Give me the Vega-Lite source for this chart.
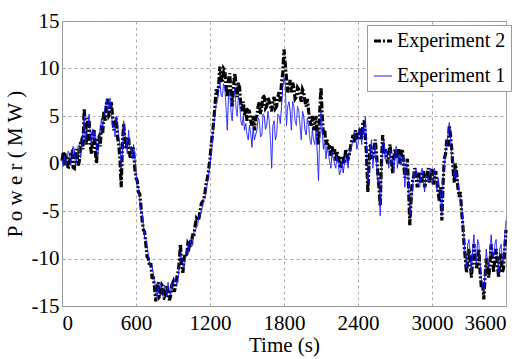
{
  "$schema": "https://vega.github.io/schema/vega-lite/v6.json",
  "width": 444,
  "height": 285,
  "autosize": "none",
  "padding": {"left": 62, "top": 21, "right": 20, "bottom": 53},
  "background": "white",
  "config": {
    "view": {"stroke": "#999999", "strokeWidth": 1},
    "font": "Liberation Serif",
    "axis": {
      "labelFontSize": 21,
      "titleFontSize": 21,
      "titleFontWeight": "normal",
      "labelColor": "black",
      "titleColor": "black",
      "domainColor": "#999999",
      "gridColor": "#aaaaaa",
      "gridDash": [3, 3],
      "ticks": false
    },
    "legend": {
      "labelFontSize": 20,
      "labelColor": "black",
      "orient": "none",
      "legendX": 305,
      "legendY": 4,
      "fillColor": "white",
      "strokeColor": "#999999",
      "padding": 5,
      "rowPadding": 15,
      "symbolType": "stroke",
      "symbolSize": 324,
      "labelOffset": 3
    }
  },
  "data": {
    "values": [
      {"t":0,"Experiment 2":0.3,"Experiment 1":0.5},
      {"t":10,"Experiment 2":1.2,"Experiment 1":-0.3},
      {"t":20,"Experiment 2":-0.2,"Experiment 1":0.8},
      {"t":30,"Experiment 2":0.9,"Experiment 1":-0.2},
      {"t":40,"Experiment 2":0.8,"Experiment 1":0.2},
      {"t":50,"Experiment 2":-0.6,"Experiment 1":1.3},
      {"t":60,"Experiment 2":0.0,"Experiment 1":1.0},
      {"t":70,"Experiment 2":1.0,"Experiment 1":-0.2},
      {"t":80,"Experiment 2":1.2,"Experiment 1":0.4},
      {"t":90,"Experiment 2":-0.4,"Experiment 1":1.8},
      {"t":100,"Experiment 2":-0.5,"Experiment 1":1.5},
      {"t":110,"Experiment 2":1.2,"Experiment 1":-0.2},
      {"t":120,"Experiment 2":1.5,"Experiment 1":0.5},
      {"t":130,"Experiment 2":-0.2,"Experiment 1":1.8},
      {"t":140,"Experiment 2":0.2,"Experiment 1":2.0},
      {"t":150,"Experiment 2":2.2,"Experiment 1":0.6},
      {"t":160,"Experiment 2":2.5,"Experiment 1":1.5},
      {"t":170,"Experiment 2":1.5,"Experiment 1":3.2},
      {"t":180,"Experiment 2":5.8,"Experiment 1":5.0},
      {"t":190,"Experiment 2":3.5,"Experiment 1":2.2},
      {"t":200,"Experiment 2":2.0,"Experiment 1":3.0},
      {"t":210,"Experiment 2":4.8,"Experiment 1":4.0},
      {"t":220,"Experiment 2":4.5,"Experiment 1":5.2},
      {"t":230,"Experiment 2":1.8,"Experiment 1":2.6},
      {"t":240,"Experiment 2":1.0,"Experiment 1":2.0},
      {"t":250,"Experiment 2":3.2,"Experiment 1":3.6},
      {"t":260,"Experiment 2":3.5,"Experiment 1":2.5},
      {"t":270,"Experiment 2":1.2,"Experiment 1":3.5},
      {"t":280,"Experiment 2":0.0,"Experiment 1":1.5},
      {"t":290,"Experiment 2":2.5,"Experiment 1":0.8},
      {"t":300,"Experiment 2":2.8,"Experiment 1":2.0},
      {"t":310,"Experiment 2":1.8,"Experiment 1":3.5},
      {"t":320,"Experiment 2":4.0,"Experiment 1":4.8},
      {"t":330,"Experiment 2":3.2,"Experiment 1":3.8},
      {"t":340,"Experiment 2":5.5,"Experiment 1":5.0},
      {"t":350,"Experiment 2":4.5,"Experiment 1":6.0},
      {"t":360,"Experiment 2":6.3,"Experiment 1":6.8},
      {"t":370,"Experiment 2":6.8,"Experiment 1":5.2},
      {"t":380,"Experiment 2":5.0,"Experiment 1":6.5},
      {"t":390,"Experiment 2":5.2,"Experiment 1":6.9},
      {"t":400,"Experiment 2":6.5,"Experiment 1":5.5},
      {"t":410,"Experiment 2":5.0,"Experiment 1":3.8},
      {"t":420,"Experiment 2":3.5,"Experiment 1":4.2},
      {"t":430,"Experiment 2":4.2,"Experiment 1":2.8},
      {"t":440,"Experiment 2":4.8,"Experiment 1":5.0},
      {"t":450,"Experiment 2":2.8,"Experiment 1":4.2},
      {"t":460,"Experiment 2":2.0,"Experiment 1":3.0},
      {"t":470,"Experiment 2":0.5,"Experiment 1":1.8},
      {"t":480,"Experiment 2":-2.5,"Experiment 1":-0.5},
      {"t":490,"Experiment 2":2.0,"Experiment 1":1.2},
      {"t":500,"Experiment 2":4.2,"Experiment 1":4.5},
      {"t":510,"Experiment 2":2.5,"Experiment 1":3.2},
      {"t":520,"Experiment 2":1.5,"Experiment 1":2.5},
      {"t":530,"Experiment 2":2.5,"Experiment 1":1.0},
      {"t":540,"Experiment 2":2.8,"Experiment 1":3.5},
      {"t":550,"Experiment 2":0.8,"Experiment 1":1.5},
      {"t":560,"Experiment 2":0.5,"Experiment 1":1.8},
      {"t":570,"Experiment 2":1.8,"Experiment 1":0.5},
      {"t":580,"Experiment 2":1.5,"Experiment 1":2.0},
      {"t":590,"Experiment 2":-0.5,"Experiment 1":0.8},
      {"t":600,"Experiment 2":-1.5,"Experiment 1":-1.0},
      {"t":610,"Experiment 2":-1.8,"Experiment 1":-2.2},
      {"t":620,"Experiment 2":-3.0,"Experiment 1":-2.5},
      {"t":630,"Experiment 2":-3.2,"Experiment 1":-3.8},
      {"t":640,"Experiment 2":-4.5,"Experiment 1":-5.0},
      {"t":650,"Experiment 2":-6.0,"Experiment 1":-5.2},
      {"t":660,"Experiment 2":-7.0,"Experiment 1":-6.5},
      {"t":670,"Experiment 2":-7.2,"Experiment 1":-7.8},
      {"t":680,"Experiment 2":-8.5,"Experiment 1":-8.0},
      {"t":690,"Experiment 2":-9.8,"Experiment 1":-8.8},
      {"t":700,"Experiment 2":-10.0,"Experiment 1":-9.5},
      {"t":710,"Experiment 2":-10.8,"Experiment 1":-10.5},
      {"t":720,"Experiment 2":-10.5,"Experiment 1":-11.0},
      {"t":730,"Experiment 2":-12.0,"Experiment 1":-10.8},
      {"t":740,"Experiment 2":-12.0,"Experiment 1":-11.5},
      {"t":750,"Experiment 2":-13.0,"Experiment 1":-12.5},
      {"t":760,"Experiment 2":-14.5,"Experiment 1":-13.0},
      {"t":770,"Experiment 2":-13.0,"Experiment 1":-14.2},
      {"t":780,"Experiment 2":-12.5,"Experiment 1":-13.5},
      {"t":790,"Experiment 2":-14.0,"Experiment 1":-12.5},
      {"t":800,"Experiment 2":-13.8,"Experiment 1":-12.8},
      {"t":810,"Experiment 2":-12.8,"Experiment 1":-13.8},
      {"t":820,"Experiment 2":-13.0,"Experiment 1":-14.0},
      {"t":830,"Experiment 2":-14.2,"Experiment 1":-12.8},
      {"t":840,"Experiment 2":-14.2,"Experiment 1":-13.2},
      {"t":850,"Experiment 2":-12.8,"Experiment 1":-14.0},
      {"t":860,"Experiment 2":-13.5,"Experiment 1":-12.5},
      {"t":870,"Experiment 2":-14.4,"Experiment 1":-13.6},
      {"t":880,"Experiment 2":-14.0,"Experiment 1":-13.8},
      {"t":890,"Experiment 2":-12.8,"Experiment 1":-12.5},
      {"t":900,"Experiment 2":-12.5,"Experiment 1":-13.0},
      {"t":910,"Experiment 2":-13.5,"Experiment 1":-12.2},
      {"t":920,"Experiment 2":-13.0,"Experiment 1":-12.0},
      {"t":930,"Experiment 2":-12.0,"Experiment 1":-12.8},
      {"t":940,"Experiment 2":-11.5,"Experiment 1":-12.5},
      {"t":950,"Experiment 2":-10.5,"Experiment 1":-11.0},
      {"t":960,"Experiment 2":-8.5,"Experiment 1":-9.5},
      {"t":970,"Experiment 2":-10.5,"Experiment 1":-10.0},
      {"t":980,"Experiment 2":-11.5,"Experiment 1":-10.5},
      {"t":990,"Experiment 2":-10.0,"Experiment 1":-11.0},
      {"t":1000,"Experiment 2":-9.5,"Experiment 1":-10.0},
      {"t":1010,"Experiment 2":-9.8,"Experiment 1":-9.0},
      {"t":1020,"Experiment 2":-8.5,"Experiment 1":-9.5},
      {"t":1030,"Experiment 2":-8.8,"Experiment 1":-8.2},
      {"t":1040,"Experiment 2":-8.0,"Experiment 1":-8.0},
      {"t":1050,"Experiment 2":-8.2,"Experiment 1":-8.8},
      {"t":1060,"Experiment 2":-7.5,"Experiment 1":-8.5},
      {"t":1070,"Experiment 2":-7.5,"Experiment 1":-7.2},
      {"t":1080,"Experiment 2":-6.5,"Experiment 1":-7.0},
      {"t":1090,"Experiment 2":-5.8,"Experiment 1":-6.8},
      {"t":1100,"Experiment 2":-6.0,"Experiment 1":-6.5},
      {"t":1110,"Experiment 2":-5.8,"Experiment 1":-5.5},
      {"t":1120,"Experiment 2":-5.0,"Experiment 1":-5.5},
      {"t":1130,"Experiment 2":-4.2,"Experiment 1":-5.0},
      {"t":1140,"Experiment 2":-4.0,"Experiment 1":-4.5},
      {"t":1150,"Experiment 2":-3.8,"Experiment 1":-3.8},
      {"t":1160,"Experiment 2":-3.0,"Experiment 1":-3.5},
      {"t":1170,"Experiment 2":-2.0,"Experiment 1":-2.8},
      {"t":1180,"Experiment 2":-1.5,"Experiment 1":-2.0},
      {"t":1190,"Experiment 2":-0.5,"Experiment 1":-1.0},
      {"t":1200,"Experiment 2":0.5,"Experiment 1":0.0},
      {"t":1210,"Experiment 2":2.0,"Experiment 1":1.0},
      {"t":1220,"Experiment 2":3.0,"Experiment 1":2.5},
      {"t":1230,"Experiment 2":4.5,"Experiment 1":4.0},
      {"t":1240,"Experiment 2":6.0,"Experiment 1":5.0},
      {"t":1250,"Experiment 2":7.8,"Experiment 1":6.2},
      {"t":1260,"Experiment 2":7.5,"Experiment 1":6.5},
      {"t":1270,"Experiment 2":8.2,"Experiment 1":7.8},
      {"t":1280,"Experiment 2":10.2,"Experiment 1":8.7},
      {"t":1290,"Experiment 2":9.0,"Experiment 1":7.2},
      {"t":1300,"Experiment 2":8.5,"Experiment 1":7.0},
      {"t":1310,"Experiment 2":10.0,"Experiment 1":8.4},
      {"t":1320,"Experiment 2":9.8,"Experiment 1":8.0},
      {"t":1330,"Experiment 2":8.0,"Experiment 1":6.0},
      {"t":1340,"Experiment 2":7.0,"Experiment 1":3.5},
      {"t":1350,"Experiment 2":8.8,"Experiment 1":7.0},
      {"t":1360,"Experiment 2":9.5,"Experiment 1":7.5},
      {"t":1370,"Experiment 2":7.5,"Experiment 1":5.5},
      {"t":1380,"Experiment 2":6.0,"Experiment 1":4.5},
      {"t":1390,"Experiment 2":8.0,"Experiment 1":6.8},
      {"t":1400,"Experiment 2":9.5,"Experiment 1":8.0},
      {"t":1410,"Experiment 2":8.5,"Experiment 1":6.0},
      {"t":1420,"Experiment 2":7.0,"Experiment 1":5.0},
      {"t":1430,"Experiment 2":8.5,"Experiment 1":7.0},
      {"t":1440,"Experiment 2":8.0,"Experiment 1":6.5},
      {"t":1450,"Experiment 2":6.2,"Experiment 1":4.5},
      {"t":1460,"Experiment 2":5.5,"Experiment 1":4.0},
      {"t":1470,"Experiment 2":6.5,"Experiment 1":5.0},
      {"t":1480,"Experiment 2":5.0,"Experiment 1":3.5},
      {"t":1490,"Experiment 2":5.8,"Experiment 1":4.2},
      {"t":1500,"Experiment 2":4.5,"Experiment 1":3.0},
      {"t":1510,"Experiment 2":5.6,"Experiment 1":2.5},
      {"t":1520,"Experiment 2":5.5,"Experiment 1":4.0},
      {"t":1530,"Experiment 2":4.5,"Experiment 1":3.2},
      {"t":1540,"Experiment 2":4.0,"Experiment 1":1.7},
      {"t":1550,"Experiment 2":5.0,"Experiment 1":3.8},
      {"t":1560,"Experiment 2":3.5,"Experiment 1":2.5},
      {"t":1570,"Experiment 2":4.8,"Experiment 1":3.0},
      {"t":1580,"Experiment 2":5.0,"Experiment 1":3.5},
      {"t":1590,"Experiment 2":6.0,"Experiment 1":4.8},
      {"t":1600,"Experiment 2":6.5,"Experiment 1":4.5},
      {"t":1610,"Experiment 2":5.2,"Experiment 1":2.8},
      {"t":1620,"Experiment 2":6.0,"Experiment 1":3.0},
      {"t":1630,"Experiment 2":7.2,"Experiment 1":5.2},
      {"t":1640,"Experiment 2":7.0,"Experiment 1":5.0},
      {"t":1650,"Experiment 2":5.8,"Experiment 1":3.6},
      {"t":1660,"Experiment 2":6.0,"Experiment 1":4.0},
      {"t":1670,"Experiment 2":7.0,"Experiment 1":5.5},
      {"t":1680,"Experiment 2":6.5,"Experiment 1":4.5},
      {"t":1690,"Experiment 2":6.0,"Experiment 1":2.5},
      {"t":1700,"Experiment 2":5.5,"Experiment 1":-0.5},
      {"t":1710,"Experiment 2":6.5,"Experiment 1":4.0},
      {"t":1720,"Experiment 2":7.0,"Experiment 1":4.5},
      {"t":1730,"Experiment 2":5.8,"Experiment 1":2.5},
      {"t":1740,"Experiment 2":6.0,"Experiment 1":3.0},
      {"t":1750,"Experiment 2":7.0,"Experiment 1":5.2},
      {"t":1760,"Experiment 2":7.5,"Experiment 1":5.0},
      {"t":1770,"Experiment 2":6.5,"Experiment 1":4.2},
      {"t":1780,"Experiment 2":8.5,"Experiment 1":6.0},
      {"t":1790,"Experiment 2":9.5,"Experiment 1":8.0},
      {"t":1800,"Experiment 2":12.0,"Experiment 1":9.0},
      {"t":1810,"Experiment 2":10.5,"Experiment 1":8.5},
      {"t":1820,"Experiment 2":9.0,"Experiment 1":4.0},
      {"t":1830,"Experiment 2":7.5,"Experiment 1":6.0},
      {"t":1840,"Experiment 2":8.0,"Experiment 1":6.5},
      {"t":1850,"Experiment 2":8.8,"Experiment 1":5.5},
      {"t":1860,"Experiment 2":7.5,"Experiment 1":3.5},
      {"t":1870,"Experiment 2":8.5,"Experiment 1":6.5},
      {"t":1880,"Experiment 2":8.0,"Experiment 1":6.0},
      {"t":1890,"Experiment 2":6.8,"Experiment 1":4.5},
      {"t":1900,"Experiment 2":7.0,"Experiment 1":4.0},
      {"t":1910,"Experiment 2":8.0,"Experiment 1":6.0},
      {"t":1920,"Experiment 2":7.8,"Experiment 1":5.5},
      {"t":1930,"Experiment 2":7.2,"Experiment 1":4.0},
      {"t":1940,"Experiment 2":6.5,"Experiment 1":2.5},
      {"t":1950,"Experiment 2":7.8,"Experiment 1":5.5},
      {"t":1960,"Experiment 2":7.5,"Experiment 1":5.0},
      {"t":1970,"Experiment 2":6.5,"Experiment 1":3.5},
      {"t":1980,"Experiment 2":6.0,"Experiment 1":3.0},
      {"t":1990,"Experiment 2":6.8,"Experiment 1":4.8},
      {"t":2000,"Experiment 2":5.5,"Experiment 1":4.0},
      {"t":2010,"Experiment 2":4.5,"Experiment 1":2.5},
      {"t":2020,"Experiment 2":4.0,"Experiment 1":2.0},
      {"t":2030,"Experiment 2":5.0,"Experiment 1":3.5},
      {"t":2040,"Experiment 2":3.5,"Experiment 1":2.5},
      {"t":2050,"Experiment 2":4.2,"Experiment 1":2.0},
      {"t":2060,"Experiment 2":5.0,"Experiment 1":3.5},
      {"t":2070,"Experiment 2":3.0,"Experiment 1":1.0},
      {"t":2080,"Experiment 2":2.0,"Experiment 1":-1.8},
      {"t":2090,"Experiment 2":5.5,"Experiment 1":3.0},
      {"t":2100,"Experiment 2":8.0,"Experiment 1":5.5},
      {"t":2110,"Experiment 2":5.0,"Experiment 1":3.5},
      {"t":2120,"Experiment 2":3.0,"Experiment 1":1.5},
      {"t":2130,"Experiment 2":3.5,"Experiment 1":2.2},
      {"t":2140,"Experiment 2":2.0,"Experiment 1":0.5},
      {"t":2150,"Experiment 2":2.5,"Experiment 1":1.8},
      {"t":2160,"Experiment 2":1.5,"Experiment 1":1.0},
      {"t":2170,"Experiment 2":2.0,"Experiment 1":0.2},
      {"t":2180,"Experiment 2":0.8,"Experiment 1":-0.5},
      {"t":2190,"Experiment 2":1.8,"Experiment 1":1.2},
      {"t":2200,"Experiment 2":1.0,"Experiment 1":0.5},
      {"t":2210,"Experiment 2":1.5,"Experiment 1":0.0},
      {"t":2220,"Experiment 2":0.3,"Experiment 1":-0.5},
      {"t":2230,"Experiment 2":1.2,"Experiment 1":0.8},
      {"t":2240,"Experiment 2":0.8,"Experiment 1":0.0},
      {"t":2250,"Experiment 2":0.0,"Experiment 1":-1.2},
      {"t":2260,"Experiment 2":-0.5,"Experiment 1":-0.8},
      {"t":2270,"Experiment 2":0.8,"Experiment 1":0.3},
      {"t":2280,"Experiment 2":0.5,"Experiment 1":-1.0},
      {"t":2290,"Experiment 2":0.0,"Experiment 1":0.0},
      {"t":2300,"Experiment 2":1.5,"Experiment 1":1.0},
      {"t":2310,"Experiment 2":1.0,"Experiment 1":0.2},
      {"t":2320,"Experiment 2":0.5,"Experiment 1":-0.5},
      {"t":2330,"Experiment 2":1.0,"Experiment 1":1.5},
      {"t":2340,"Experiment 2":1.8,"Experiment 1":1.2},
      {"t":2350,"Experiment 2":2.5,"Experiment 1":2.0},
      {"t":2360,"Experiment 2":3.0,"Experiment 1":2.5},
      {"t":2370,"Experiment 2":2.2,"Experiment 1":3.4},
      {"t":2380,"Experiment 2":3.5,"Experiment 1":3.0},
      {"t":2390,"Experiment 2":2.5,"Experiment 1":1.5},
      {"t":2400,"Experiment 2":2.5,"Experiment 1":2.0},
      {"t":2410,"Experiment 2":3.2,"Experiment 1":3.8},
      {"t":2420,"Experiment 2":3.8,"Experiment 1":3.5},
      {"t":2430,"Experiment 2":2.5,"Experiment 1":2.0},
      {"t":2440,"Experiment 2":4.2,"Experiment 1":3.8},
      {"t":2450,"Experiment 2":4.5,"Experiment 1":3.0},
      {"t":2460,"Experiment 2":3.0,"Experiment 1":5.0},
      {"t":2470,"Experiment 2":0.5,"Experiment 1":1.5},
      {"t":2480,"Experiment 2":-3.0,"Experiment 1":-2.0},
      {"t":2490,"Experiment 2":0.0,"Experiment 1":-0.5},
      {"t":2500,"Experiment 2":2.0,"Experiment 1":1.5},
      {"t":2510,"Experiment 2":1.0,"Experiment 1":2.5},
      {"t":2520,"Experiment 2":0.5,"Experiment 1":-0.5},
      {"t":2530,"Experiment 2":1.5,"Experiment 1":1.0},
      {"t":2540,"Experiment 2":2.5,"Experiment 1":2.0},
      {"t":2550,"Experiment 2":1.0,"Experiment 1":0.0},
      {"t":2560,"Experiment 2":-1.0,"Experiment 1":-2.0},
      {"t":2570,"Experiment 2":-2.5,"Experiment 1":-1.5},
      {"t":2580,"Experiment 2":-4.5,"Experiment 1":-5.5},
      {"t":2590,"Experiment 2":0.0,"Experiment 1":-1.0},
      {"t":2600,"Experiment 2":3.0,"Experiment 1":2.0},
      {"t":2610,"Experiment 2":1.0,"Experiment 1":2.5},
      {"t":2620,"Experiment 2":1.5,"Experiment 1":0.5},
      {"t":2630,"Experiment 2":0.8,"Experiment 1":1.5},
      {"t":2640,"Experiment 2":0.0,"Experiment 1":0.5},
      {"t":2650,"Experiment 2":1.2,"Experiment 1":-0.5},
      {"t":2660,"Experiment 2":2.0,"Experiment 1":1.5},
      {"t":2670,"Experiment 2":0.5,"Experiment 1":0.0},
      {"t":2680,"Experiment 2":-1.0,"Experiment 1":0.5},
      {"t":2690,"Experiment 2":0.5,"Experiment 1":-1.0},
      {"t":2700,"Experiment 2":1.5,"Experiment 1":1.0},
      {"t":2710,"Experiment 2":0.8,"Experiment 1":1.8},
      {"t":2720,"Experiment 2":0.5,"Experiment 1":-0.5},
      {"t":2730,"Experiment 2":1.5,"Experiment 1":0.8},
      {"t":2740,"Experiment 2":0.0,"Experiment 1":1.0},
      {"t":2750,"Experiment 2":1.0,"Experiment 1":-0.2},
      {"t":2760,"Experiment 2":1.5,"Experiment 1":0.5},
      {"t":2770,"Experiment 2":0.0,"Experiment 1":0.8},
      {"t":2780,"Experiment 2":-1.5,"Experiment 1":-2.5},
      {"t":2790,"Experiment 2":-0.5,"Experiment 1":0.0},
      {"t":2800,"Experiment 2":0.5,"Experiment 1":-0.5},
      {"t":2810,"Experiment 2":-2.5,"Experiment 1":-2.0},
      {"t":2820,"Experiment 2":-6.5,"Experiment 1":-5.5},
      {"t":2830,"Experiment 2":-4.0,"Experiment 1":-4.5},
      {"t":2840,"Experiment 2":-2.0,"Experiment 1":-3.0},
      {"t":2850,"Experiment 2":-1.5,"Experiment 1":-0.8},
      {"t":2860,"Experiment 2":-0.5,"Experiment 1":-1.5},
      {"t":2870,"Experiment 2":-1.0,"Experiment 1":-0.5},
      {"t":2880,"Experiment 2":-2.5,"Experiment 1":-1.5},
      {"t":2890,"Experiment 2":-1.5,"Experiment 1":-2.2},
      {"t":2900,"Experiment 2":-1.0,"Experiment 1":-2.5},
      {"t":2910,"Experiment 2":-2.0,"Experiment 1":-1.0},
      {"t":2920,"Experiment 2":-1.5,"Experiment 1":-0.5},
      {"t":2930,"Experiment 2":-0.8,"Experiment 1":-1.8},
      {"t":2940,"Experiment 2":-2.5,"Experiment 1":-3.0},
      {"t":2950,"Experiment 2":-2.0,"Experiment 1":-1.2},
      {"t":2960,"Experiment 2":-1.0,"Experiment 1":-1.5},
      {"t":2970,"Experiment 2":-0.5,"Experiment 1":-2.0},
      {"t":2980,"Experiment 2":-2.0,"Experiment 1":-1.0},
      {"t":2990,"Experiment 2":-1.0,"Experiment 1":-0.5},
      {"t":3000,"Experiment 2":-0.5,"Experiment 1":-2.0},
      {"t":3010,"Experiment 2":-2.2,"Experiment 1":-1.5},
      {"t":3020,"Experiment 2":-1.5,"Experiment 1":-0.5},
      {"t":3030,"Experiment 2":-0.8,"Experiment 1":-1.8},
      {"t":3040,"Experiment 2":-2.0,"Experiment 1":-3.0},
      {"t":3050,"Experiment 2":-3.0,"Experiment 1":-1.5},
      {"t":3060,"Experiment 2":-4.0,"Experiment 1":-2.5},
      {"t":3070,"Experiment 2":-2.5,"Experiment 1":-3.5},
      {"t":3080,"Experiment 2":-6.0,"Experiment 1":-5.5},
      {"t":3090,"Experiment 2":-2.0,"Experiment 1":-1.5},
      {"t":3100,"Experiment 2":0.5,"Experiment 1":-0.5},
      {"t":3110,"Experiment 2":1.0,"Experiment 1":1.5},
      {"t":3120,"Experiment 2":2.5,"Experiment 1":2.0},
      {"t":3130,"Experiment 2":1.8,"Experiment 1":3.0},
      {"t":3140,"Experiment 2":4.0,"Experiment 1":4.3},
      {"t":3150,"Experiment 2":3.0,"Experiment 1":2.5},
      {"t":3160,"Experiment 2":1.5,"Experiment 1":0.5},
      {"t":3170,"Experiment 2":-0.5,"Experiment 1":0.5},
      {"t":3180,"Experiment 2":-2.0,"Experiment 1":-1.5},
      {"t":3190,"Experiment 2":0.0,"Experiment 1":-0.5},
      {"t":3200,"Experiment 2":-1.0,"Experiment 1":-1.5},
      {"t":3210,"Experiment 2":-2.5,"Experiment 1":-1.8},
      {"t":3220,"Experiment 2":-3.5,"Experiment 1":-3.0},
      {"t":3230,"Experiment 2":-3.0,"Experiment 1":-4.0},
      {"t":3240,"Experiment 2":-5.0,"Experiment 1":-4.5},
      {"t":3250,"Experiment 2":-6.5,"Experiment 1":-6.0},
      {"t":3260,"Experiment 2":-8.5,"Experiment 1":-8.0},
      {"t":3270,"Experiment 2":-10.0,"Experiment 1":-9.5},
      {"t":3280,"Experiment 2":-11.5,"Experiment 1":-11.0},
      {"t":3290,"Experiment 2":-10.0,"Experiment 1":-8.5},
      {"t":3300,"Experiment 2":-9.0,"Experiment 1":-8.0},
      {"t":3310,"Experiment 2":-10.5,"Experiment 1":-10.0},
      {"t":3320,"Experiment 2":-12.0,"Experiment 1":-11.5},
      {"t":3330,"Experiment 2":-10.0,"Experiment 1":-9.0},
      {"t":3340,"Experiment 2":-8.5,"Experiment 1":-7.5},
      {"t":3350,"Experiment 2":-10.0,"Experiment 1":-9.5},
      {"t":3360,"Experiment 2":-11.0,"Experiment 1":-10.5},
      {"t":3370,"Experiment 2":-10.5,"Experiment 1":-8.0},
      {"t":3380,"Experiment 2":-9.0,"Experiment 1":-8.5},
      {"t":3390,"Experiment 2":-11.5,"Experiment 1":-10.5},
      {"t":3400,"Experiment 2":-13.0,"Experiment 1":-12.0},
      {"t":3410,"Experiment 2":-12.5,"Experiment 1":-12.8},
      {"t":3420,"Experiment 2":-14.3,"Experiment 1":-13.5},
      {"t":3430,"Experiment 2":-12.0,"Experiment 1":-11.5},
      {"t":3440,"Experiment 2":-10.0,"Experiment 1":-9.0},
      {"t":3450,"Experiment 2":-10.5,"Experiment 1":-10.5},
      {"t":3460,"Experiment 2":-12.0,"Experiment 1":-11.0},
      {"t":3470,"Experiment 2":-10.5,"Experiment 1":-9.0},
      {"t":3480,"Experiment 2":-8.5,"Experiment 1":-7.5},
      {"t":3490,"Experiment 2":-10.0,"Experiment 1":-9.5},
      {"t":3500,"Experiment 2":-11.5,"Experiment 1":-10.0},
      {"t":3510,"Experiment 2":-9.8,"Experiment 1":-8.5},
      {"t":3520,"Experiment 2":-9.0,"Experiment 1":-8.0},
      {"t":3530,"Experiment 2":-10.5,"Experiment 1":-10.0},
      {"t":3540,"Experiment 2":-12.0,"Experiment 1":-11.5},
      {"t":3550,"Experiment 2":-10.0,"Experiment 1":-9.0},
      {"t":3560,"Experiment 2":-9.5,"Experiment 1":-8.5},
      {"t":3570,"Experiment 2":-11.5,"Experiment 1":-10.0},
      {"t":3580,"Experiment 2":-11.0,"Experiment 1":-10.5},
      {"t":3590,"Experiment 2":-9.0,"Experiment 1":-7.5},
      {"t":3600,"Experiment 2":-7.0,"Experiment 1":-6.0}
    ]
  },
  "transform": [
    {"fold": ["Experiment 2", "Experiment 1"], "as": ["series", "power"]}
  ],
  "encoding": {
    "x": {
      "field": "t", "type": "quantitative",
      "scale": {"domain": [0, 3600], "nice": false},
      "axis": {"values": [0, 600, 1200, 1800, 2400, 3000, 3600], "labelExpr": "datum.value + ''", "title": "Time (s)", "labelFont": "Liberation Serif", "titleFont": "Liberation Serif", "labelFontSize": 21, "titleFontSize": 21, "labelPadding": 6, "titlePadding": 1, "grid": true}
    },
    "y": {
      "field": "power", "type": "quantitative",
      "scale": {"domain": [-15, 15], "nice": false},
      "axis": {"values": [-15, -10, -5, 0, 5, 10, 15], "labelExpr": "datum.value + ''", "title": "P o w e r  ( M W )", "labelFont": "Liberation Serif", "titleFont": "Liberation Serif", "labelFontSize": 21, "titleFontSize": 21, "labelPadding": 3, "titlePadding": 6, "grid": true}
    },
    "color": {
      "field": "series", "type": "nominal",
      "scale": {"domain": ["Experiment 2", "Experiment 1"], "range": ["#000000", "#1a1aff"]},
      "legend": {"title": null, "labelFont": "Liberation Serif", "labelFontSize": 20}
    },
    "strokeDash": {
      "field": "series", "type": "nominal",
      "scale": {"domain": ["Experiment 2", "Experiment 1"], "range": [[7, 2, 2, 2], [1, 0]]},
      "legend": {"title": null, "labelFont": "Liberation Serif", "labelFontSize": 20}
    },
    "strokeWidth": {
      "field": "series", "type": "nominal",
      "scale": {"domain": ["Experiment 2", "Experiment 1"], "range": [3.2, 1]},
      "legend": {"title": null, "labelFont": "Liberation Serif", "labelFontSize": 20}
    }
  },
  "layer": [
    {"transform": [{"filter": "datum.series === 'Experiment 2'"}], "mark": {"type": "line"}},
    {"transform": [{"filter": "datum.series === 'Experiment 1'"}], "mark": {"type": "line"}}
  ]
}
